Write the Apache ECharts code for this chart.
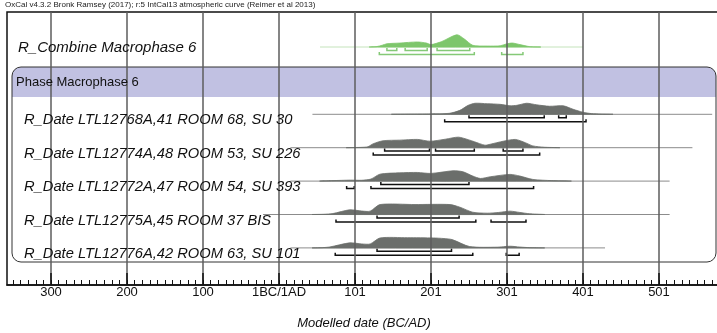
<!DOCTYPE html>
<html><head><meta charset="utf-8">
<script src="https://cdn.jsdelivr.net/npm/echarts@6/dist/echarts.min.js"></script>
<style>html,body{margin:0;padding:0;background:#fff}#c{width:717px;height:333px}</style>
</head><body><div id="c"></div>
<script>
// ---- texts ----
const headerText = 'OxCal v4.3.2 Bronk Ramsey (2017); r:5 IntCal13 atmospheric curve (Reimer et al 2013)';
const combineLabel = 'R_Combine Macrophase 6';
const phaseLabel = 'Phase Macrophase 6';
const axisTitle = 'Modelled date (BC/AD)';
const rowLabels = [
  'R_Date LTL12768A,41 ROOM 68, SU 30',
  'R_Date LTL12774A,48 ROOM 53, SU 226',
  'R_Date LTL12772A,47 ROOM 54, SU 393',
  'R_Date LTL12775A,45 ROOM 37 BIS',
  'R_Date LTL12776A,42 ROOM 63, SU 101'
];
// ---- axis ticks (calendar years, 1 = start of AD 1) ----
const tickValues = [-299, -199, -99, 1, 101, 201, 301, 401, 501];
const tickLabels = ['300', '200', '100', '1BC/1AD', '101', '201', '301', '401', '501'];
const minorTickValues = [];
for (let v = -349; v <= 581; v += 10) minorTickValues.push(v);

// ---- distributions: [year AD, relative probability] ----
const combineDist = [[120,0],[130,0.04],[137,0.15],[143,0.27],[160,0.33],[183,0.42],[195,0.33],[201,0.2],[215,0.45],[235,1.02],[245,0.66],[256,0.14],[275,0.08],[292,0.1],[300,0.25],[308,0.33],[318,0.2],[331,0.03],[345,0]];
const dist1 = [[150,0],[200,0.03],[225,0.08],[239,0.33],[250,0.75],[259,0.92],[275,0.88],[292,0.83],[305,0.71],[314,0.75],[327,0.92],[340,0.79],[357,0.67],[375,0.71],[388,0.42],[401,0.17],[412,0.06],[425,0.02],[440,0]];
const dist2 = [[90,0],[110,0.03],[118,0.08],[125,0.33],[138,0.58],[160,0.63],[183,0.69],[200,0.54],[220,0.71],[237,0.88],[250,0.67],[258,0.5],[272,0.21],[279,0.29],[296,0.54],[312,0.69],[325,0.42],[335,0.15],[350,0.04],[370,0]];
const dist3 = [[55,0],[72,0.04],[95,0.08],[110,0.07],[122,0.17],[134,0.58],[160,0.69],[183,0.72],[201,0.64],[230,0.86],[243,0.78],[256,0.42],[266,0.22],[279,0.36],[305,0.56],[318,0.42],[335,0.14],[360,0.04],[385,0]];
const dist4 = [[45,0],[60,0.02],[72,0.08],[94,0.39],[110,0.29],[121,0.28],[134,0.83],[180,0.83],[226,0.83],[239,0.61],[256,0.19],[275,0.11],[290,0.17],[305,0.28],[318,0.17],[331,0.06],[350,0]];
const dist5 = [[45,0],[58,0.02],[68,0.08],[94,0.42],[110,0.33],[121,0.33],[134,0.83],[170,0.85],[204,0.83],[218,0.78],[229,0.69],[252,0.11],[288,0.06],[305,0.14],[318,0.07],[331,0.02],[350,0]];

// ---- extent of each plotted distribution (year AD) ----
const combineRange = [55, 401];
const range1 = [45, 571];
const range2 = [16, 545];
const range3 = [16, 515];
const range4 = [-20, 515];
const range5 = [16, 430];

// ---- highest posterior density ranges (year AD): 68.2% inner, 95.4% outer ----
const combineInner = [[143,156],[167,196],[209,252]];
const combineOuter = [[133,258],[294,322]];
const inner1 = [[251,350],[369,379]];
const outer1 = [[219,405]];
const inner2 = [[140,199],[207,258],[296,322]];
const outer2 = [[125,344]];
const inner3 = [[135,251]];
const outer3 = [[90,100],[122,336]];
const inner4 = [[130,238]];
const outer4 = [[76,260],[280,326]];
const inner5 = [[130,228]];
const outer5 = [[75,256],[300,317]];

// ---- build ----
const rows = [
  {dist: dist1, range: range1, inner: inner1, outer: outer1},
  {dist: dist2, range: range2, inner: inner2, outer: outer2},
  {dist: dist3, range: range3, inner: inner3, outer: outer3},
  {dist: dist4, range: range4, inner: inner4, outer: outer4},
  {dist: dist5, range: range5, inner: inner5, outer: outer5}
];

const GRID_TOP = 12, GRID_LEFT = 7, AXIS_Y = 285;
const X_MIN = -356.9, X_MAX = 590.5;
const combineBase = 35;          // y units (px below grid top)
const rowBase0 = 102.3, rowStep = 33.4;
const H = 12;

function distSeries(name, dist, range, inner, outer, baseY, fill, base, br) {
  return {
    type: 'custom', name: name, coordinateSystem: 'cartesian2d', silent: true, z: 3, clip: false,
    data: [[range[0], baseY]],
    renderItem: function (params, api) {
      const ch = [];
      const b0 = api.coord([range[0], baseY]), b1 = api.coord([range[1], baseY]);
      ch.push({type: 'line', shape: {x1: b0[0], y1: b0[1], x2: b1[0], y2: b1[1]},
        style: {stroke: base, lineWidth: 1}});
      const pts = dist.map(d => api.coord([d[0], baseY - d[1] * H]));
      ch.push({type: 'polygon', shape: {points: pts, smooth: 0.25},
        style: {fill: fill, stroke: fill, lineWidth: 0.8}});
      function bracket(r, off) {
        const a = api.coord([r[0], baseY + off]), b = api.coord([r[1], baseY + off]);
        ch.push({type: 'polyline', shape: {points: [[a[0], a[1] - 2.5], [a[0], a[1]], [b[0], b[1]], [b[0], b[1] - 2.5]]},
          style: {stroke: br, lineWidth: 1.5, fill: null}});
      }
      inner.forEach(r => bracket(r, 3.4));
      outer.forEach(r => bracket(r, 7.4));
      return {type: 'group', children: ch};
    }
  };
}

const series = [distSeries('combine', combineDist, combineRange, combineInner, combineOuter, combineBase, '#7dc66b', '#c4e3bb', '#85c977')];
rows.forEach((r, i) => series.push(distSeries('row' + i, r.dist, r.range, r.inner, r.outer, rowBase0 + rowStep * i, '#6b6e6b', '#8c8c8c', '#111')));

const graphics = [
  {type: 'text', left: 5, top: 1, z: 20, style: {text: headerText, font: '8px "Liberation Sans", Arial, sans-serif', fill: '#222'}},
  {type: 'rect', shape: {x: 12, y: 67, width: 704, height: 30, r: [9, 9, 0, 0]}, style: {fill: '#c1c1e2'}, z: 1},
  {type: 'rect', shape: {x: 12, y: 67, width: 704, height: 195, r: 9}, style: {fill: null, stroke: '#333', lineWidth: 1}, z: 1},
  {type: 'text', x: 16, y: 82, z: 20, style: {text: phaseLabel, font: '13px "Liberation Sans", Arial, sans-serif', fill: '#111', verticalAlign: 'middle'}},
  {type: 'text', x: 18, y: 48, z: 20, style: {text: combineLabel, font: 'italic 15px "Liberation Sans", Arial, sans-serif', fill: '#111', verticalAlign: 'middle'}},
  {type: 'text', x: 364, y: 323, z: 20, style: {text: axisTitle, font: 'italic 13px "Liberation Sans", Arial, sans-serif', fill: '#111', align: 'center', verticalAlign: 'middle'}}
];
rowLabels.forEach((t, i) => graphics.push({type: 'text', x: 24, y: GRID_TOP + rowBase0 + rowStep * i + 6, z: 20,
  style: {text: t, font: 'italic 14.7px "Liberation Sans", Arial, sans-serif', fill: '#111', verticalAlign: 'middle'}}));

const option = {
  animation: false,
  backgroundColor: '#fff',
  grid: {left: GRID_LEFT, top: GRID_TOP, width: 720, height: AXIS_Y - GRID_TOP, show: true, borderColor: '#111', borderWidth: 1.5,
    backgroundColor: 'transparent', outerBoundsMode: 'none', containLabel: false},
  xAxis: [
    {type: 'value', min: X_MIN, max: X_MAX, position: 'bottom', z: 10,
      axisLine: {onZero: false, show: true, lineStyle: {color: '#111', width: 1.5}},
      axisTick: {show: true, inside: true, length: 5, customValues: minorTickValues, lineStyle: {color: '#111', width: 1}},
      axisLabel: {show: false}, splitLine: {show: false}},
    {type: 'value', min: X_MIN, max: X_MAX, position: 'bottom', z: 10,
      axisLine: {onZero: false, show: false},
      axisTick: {show: true, inside: true, length: 12, customValues: tickValues, lineStyle: {color: '#111', width: 1.5}},
      axisLabel: {show: true, customValues: tickValues, margin: 1, color: '#111', fontSize: 13, fontFamily: '"Liberation Sans", Arial, sans-serif',
        formatter: function (v) { const i = tickValues.indexOf(Math.round(v)); return i >= 0 ? tickLabels[i] : ''; }},
      splitLine: {show: true, lineStyle: {color: '#5c5c5c', width: 1.5}}}
  ],
  yAxis: {type: 'value', min: 0, max: AXIS_Y - GRID_TOP, inverse: true, show: false},
  graphic: graphics,
  series: series
};
const chart = echarts.init(document.getElementById('c'));
chart.setOption(option);
</script></body></html>
